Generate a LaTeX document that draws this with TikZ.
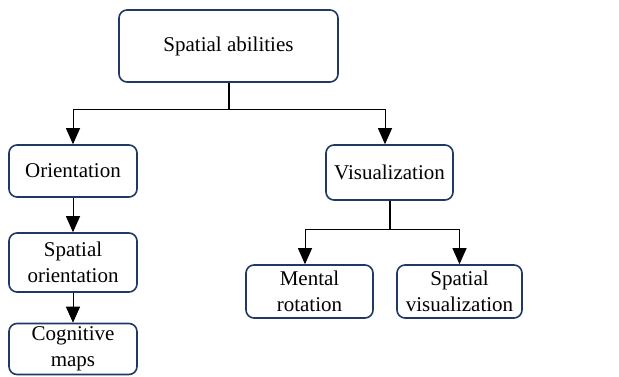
\documentclass[tikz,border=0pt]{standalone}
\usepackage{fontspec}
\setmainfont{Liberation Serif}
\newfontfamily\tnr{Liberation Serif}
\usetikzlibrary{arrows.meta}
\definecolor{navy}{HTML}{1F3864}
\begin{document}
\begin{tikzpicture}[x=1pt,y=-1pt,
  box/.style={draw=navy,line width=1.6pt,rounded corners=8pt,fill=white,align=center,
    inner sep=0pt,font=\tnr\fontsize{21}{26}\selectfont},
  arr/.style={line width=1pt,-{Triangle[length=16pt,width=14pt]}}]
\useasboundingbox (0,0) rectangle (619,376);
\node[box,minimum width=219pt,minimum height=72pt] (top) at (228.5,46) {Spatial abilities};
\node[box,minimum width=128pt,minimum height=52pt] (ori) at (73,171) {Orientation};
\node[box,minimum width=127pt,minimum height=55pt] (vis) at (389.5,172.5) {Visualization};
\node[box,minimum width=128pt,minimum height=59pt] (so) at (73,262.5) {Spatial\\orientation};
\node[box,minimum width=128pt,minimum height=51pt] (cm) at (73,349) {Cognitive\\maps};
\node[box,minimum width=127pt,minimum height=53pt] (mr) at (309.5,291.5) {Mental\\rotation};
\node[box,minimum width=125pt,minimum height=53pt] (sv) at (459.5,291.5) {Spatial\\visualization};
% top connectors
\draw[line width=2pt] (top.south) -- ++(0,27) coordinate (j1);
\draw[arr] (j1) -| (ori.north);
\draw[arr] (j1) -| ([xshift=-4.5pt]vis.north);
% orientation chain
\draw[arr] (ori.south) -- (so.north);
\draw[arr] (so.south) -- (cm.north);
% visualization connectors
\draw[line width=2pt] (vis.south) -- ++(0,29) coordinate (j2);
\draw[arr] (j2) -| ([xshift=-4.5pt]mr.north);
\draw[arr] (j2) -| (sv.north);
\end{tikzpicture}
\end{document}
